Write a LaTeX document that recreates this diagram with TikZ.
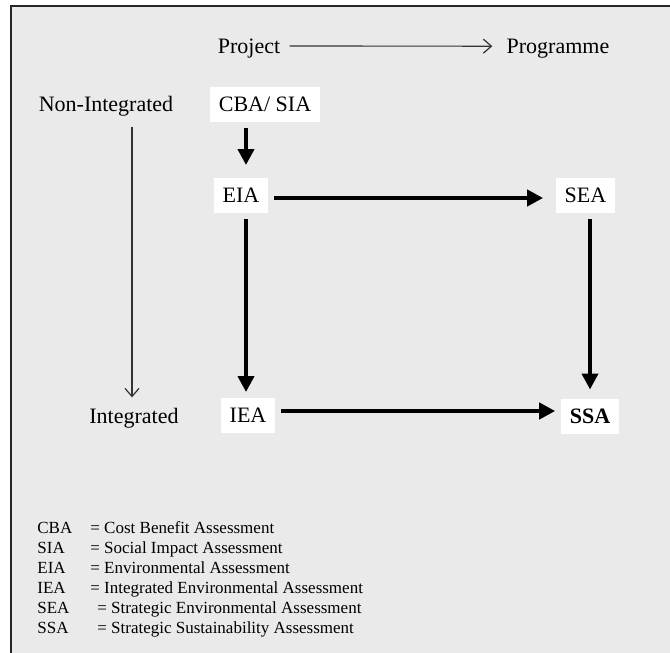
\documentclass[tikz,border=0pt]{standalone}
\usepackage{fontspec}
\setmainfont{Liberation Serif}
\usetikzlibrary{arrows.meta,positioning}
\definecolor{bggray}{RGB}{234,234,234}

\begin{document}
\begin{tikzpicture}
     [ x=0.5pt, y=-0.5pt,
       box/.style={fill=white, inner xsep=4.3pt, inner ysep=0pt, minimum height=17.5pt,
                   text depth=0pt, outer sep=3pt, font=\fontsize{11}{13}\selectfont},
       lbl/.style={font=\fontsize{11}{13}\selectfont, inner sep=0pt, anchor=base},
       key/.style={font=\fontsize{8.5}{10}\selectfont, inner sep=0pt, anchor=base west},
       bigarrow/.style={line width=2pt, -{Triangle[length=8pt,width=8pt]}},
       thinarrow/.style={line width=0.6pt, draw=black!80, -{Straight Barb[length=4pt,width=7pt]}}]
   \useasboundingbox (0,0) rectangle (670,653);
   \fill[bggray] (11,6) rectangle (670,653);
   \draw[line width=1pt, black!85] (670,6) -- (11,6) -- (11,653);
   % axis labels
   \node (Proj) [lbl] at (249,54) {Project};
   \node (Prog) [lbl] at (558,54) {Programme};
   \node (NonInt) [lbl] at (106,111) {Non-Integrated};
   \node (Int) [lbl] at (134,423) {Integrated};
   \draw[thinarrow, shorten <=4.5pt, shorten >=7pt] ([yshift=1.5pt]Proj.east) -- ([yshift=1.5pt]Prog.west);
   \draw[thinarrow, shorten <=5.5pt, shorten >=5pt] ([xshift=-1pt]Int.north |- NonInt.south) -- ([xshift=-1pt]Int.north);
   % assessments
   \node (CBA) [box] at (265,104.5) {CBA/ SIA};
   \node (EIA) [box] at (241,195.5) {EIA};
   \node (SEA) [box] at (585.5,195.5) {SEA};
   \node (IEA) [box] at (248,415.5) {IEA};
   \node (SSA) [box] at (590,416) {\textbf{SSA}};
   \draw[bigarrow, shorten >=3.5pt] ([xshift=2.5pt]EIA.north |- CBA.south) -- ([xshift=2.5pt]EIA.north);
   \draw[bigarrow, shorten >=3.5pt] ([yshift=-1.25pt]EIA.east) -- ([yshift=-1.25pt]EIA.east -| SEA.west);
   \draw[bigarrow] ([xshift=2.5pt]EIA.south) -- ([xshift=2.5pt]EIA.south |- IEA.north);
   \draw[bigarrow, shorten >=1.5pt] ([xshift=2.25pt]SEA.south) -- ([xshift=2.25pt]SEA.south |- SSA.north);
   \draw[bigarrow] ([yshift=2.25pt]IEA.east) -- ([yshift=2.25pt]IEA.east -| SSA.west);
   % legend
   \node (kCBA) [key] at (37,533) {CBA};
   \node (dCBA) [key] at (90,533) {= Cost Benefit Assessment};
   \node (kSIA) [key] at (37,553) {SIA};
   \node (dSIA) [key] at (90,553) {= Social Impact Assessment};
   \node (kEIA) [key] at (37,573) {EIA};
   \node (dEIA) [key] at (90,573) {= Environmental Assessment};
   \node (kIEA) [key] at (37,593) {IEA};
   \node (dIEA) [key] at (90,593) {= Integrated Environmental Assessment};
   \node (kSEA) [key] at (37,613) {SEA};
   \node (dSEA) [key] at (97,613) {= Strategic Environmental Assessment};
   \node (kSSA) [key] at (37,633) {SSA};
   \node (dSSA) [key] at (97,633) {= Strategic Sustainability Assessment};
\end{tikzpicture}
\end{document}
